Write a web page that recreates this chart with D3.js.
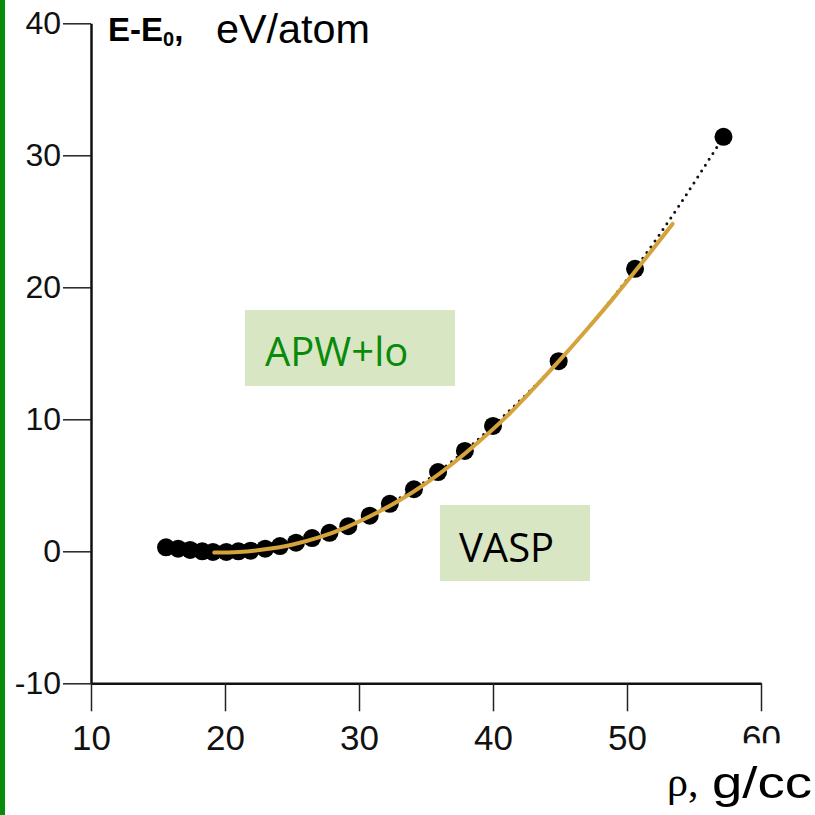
<!DOCTYPE html>
<html><head><meta charset="utf-8">
<script src="https://cdn.jsdelivr.net/npm/d3@7"></script>
<style>
html,body{margin:0;padding:0;background:#fff;}
svg{display:block;}
text{font-family:"Liberation Sans",Arial,sans-serif;}
</style></head>
<body>
<svg id="chart" width="815" height="815"></svg>
<script>
// ---- data ----
const rhoPoints = [15.6,16.5,17.4,18.3,19.1,20.1,21.0,21.9,23.0,24.1,25.3,26.5,27.8,29.2,30.8,32.3,34.1,35.9,37.9,40.0,44.9,50.6,57.2];
const ePoints   = [0.30,0.20,0.10,0.00,-0.05,-0.05,0.00,0.05,0.20,0.40,0.65,1.00,1.40,1.90,2.70,3.60,4.70,6.00,7.60,9.50,14.4,21.4,31.4];
const rhoFit = [19.2,21.0,23.0,25.0,27.0,29.0,31.0,33.0,35.0,37.0,39.0,41.0,43.0,45.0,47.0,49.0,51.0,53.4];
const eFit   = [-0.1,-0.05,0.15,0.50,1.05,1.80,2.75,3.85,5.15,6.65,8.35,10.2,12.3,14.5,16.8,19.2,21.7,24.8];
const xTicks = [10,20,30,40,50,60];
const yTicks = [-10,0,10,20,30,40];
const labelAPW = "APW+lo";
const labelVASP = "VASP";

const svg = d3.select("#chart");
const x = d3.scaleLinear().domain([10,60]).range([91,761]);
const y = d3.scaleLinear().domain([-10,40]).range([683.3,23.3]);
const fmt = d => String(d); // plain hyphen minus, as in the reference

// left green bar
svg.append("rect").attr("x",0).attr("y",0).attr("width",5).attr("height",815).attr("fill","#0a8a0a");

// annotation boxes
svg.append("rect").attr("x",245).attr("y",310).attr("width",210).attr("height",76).attr("fill","#d9e6c4");
svg.append("text").attr("x",265).attr("y",366).attr("font-size",40).attr("fill","#0a8a0a")
  .style("font-family","'Open Sans',sans-serif").text(labelAPW);
svg.append("rect").attr("x",440).attr("y",505).attr("width",150).attr("height",76).attr("fill","#d9e6c4");
svg.append("text").attr("x",459).attr("y",562).attr("font-size",40).attr("fill","#000")
  .style("font-family","'Open Sans',sans-serif").text(labelVASP);

// axes
const yAxis = d3.axisLeft(y).tickValues(yTicks).tickSize(28).tickSizeOuter(0).tickPadding(2).tickFormat(fmt);
const gy = svg.append("g").attr("transform",`translate(${x(10)},0)`).call(yAxis);
gy.select(".domain").attr("stroke","#111").attr("stroke-width",2.5);
gy.selectAll(".tick line").attr("stroke","#222").attr("stroke-width",1.5);
gy.selectAll(".tick text").attr("font-size",32).attr("fill","#111").style("font-family","'Liberation Sans',Arial,sans-serif");

const xAxis = d3.axisBottom(x).tickValues(xTicks).tickSize(28).tickSizeOuter(0).tickPadding(14).tickFormat(fmt);
const gx = svg.append("g").attr("transform",`translate(0,${y(-10)})`).call(xAxis);
gx.select(".domain").attr("stroke","#111").attr("stroke-width",2.5);
gx.selectAll(".tick line").attr("stroke","#222").attr("stroke-width",1.5);
gx.selectAll(".tick text").attr("font-size",35).attr("fill","#111").style("font-family","'Liberation Sans',Arial,sans-serif");

// clip the "60" label at the bottom like the reference
const defs = svg.append("defs");
defs.append("clipPath").attr("id","clip60").append("rect").attr("x",-100).attr("y",-100).attr("width",200).attr("height",160);
gx.selectAll(".tick").filter(d=>d===60).select("text").attr("clip-path","url(#clip60)");

// dotted line through points
const pts = rhoPoints.map((r,i)=>[r,ePoints[i]]);
svg.append("path").datum(pts)
  .attr("d",d3.line().x(d=>x(d[0])).y(d=>y(d[1])).curve(d3.curveMonotoneX))
  .attr("fill","none").attr("stroke","#111").attr("stroke-width",3)
  .attr("stroke-linecap","round").attr("stroke-dasharray","0 7");

// markers
svg.append("g").selectAll("circle").data(pts).join("circle")
  .attr("cx",d=>x(d[0])).attr("cy",d=>y(d[1])).attr("r",9).attr("fill","#000");

// fit curve
const fit = rhoFit.map((r,i)=>[r,eFit[i]]);
svg.append("path").datum(fit)
  .attr("d",d3.line().x(d=>x(d[0])).y(d=>y(d[1])).curve(d3.curveMonotoneX))
  .attr("fill","none").attr("stroke","#d4a33c").attr("stroke-width",4).attr("stroke-linecap","round");

// axis titles
const t = svg.append("text").attr("x",108).attr("y",41);
t.append("tspan").attr("font-weight","bold").attr("font-size",33).text("E-E");
t.append("tspan").attr("font-weight","bold").attr("font-size",20).attr("dy",5).text("0");
t.append("tspan").attr("font-weight","bold").attr("font-size",33).attr("dy",-5).text(",");
svg.append("text").attr("x",216).attr("y",43).attr("font-size",40).attr("textLength",154)
  .attr("lengthAdjust","spacingAndGlyphs").attr("fill","#000").text("eV/atom");

svg.append("text").attr("x",667).attr("y",796).style("font-family","'Liberation Serif',serif").attr("font-size",42).text("ρ,");
svg.append("text").attr("x",712).attr("y",798).attr("font-size",44).attr("textLength",100)
  .attr("lengthAdjust","spacingAndGlyphs").text("g/cc");
</script>
</body></html>
